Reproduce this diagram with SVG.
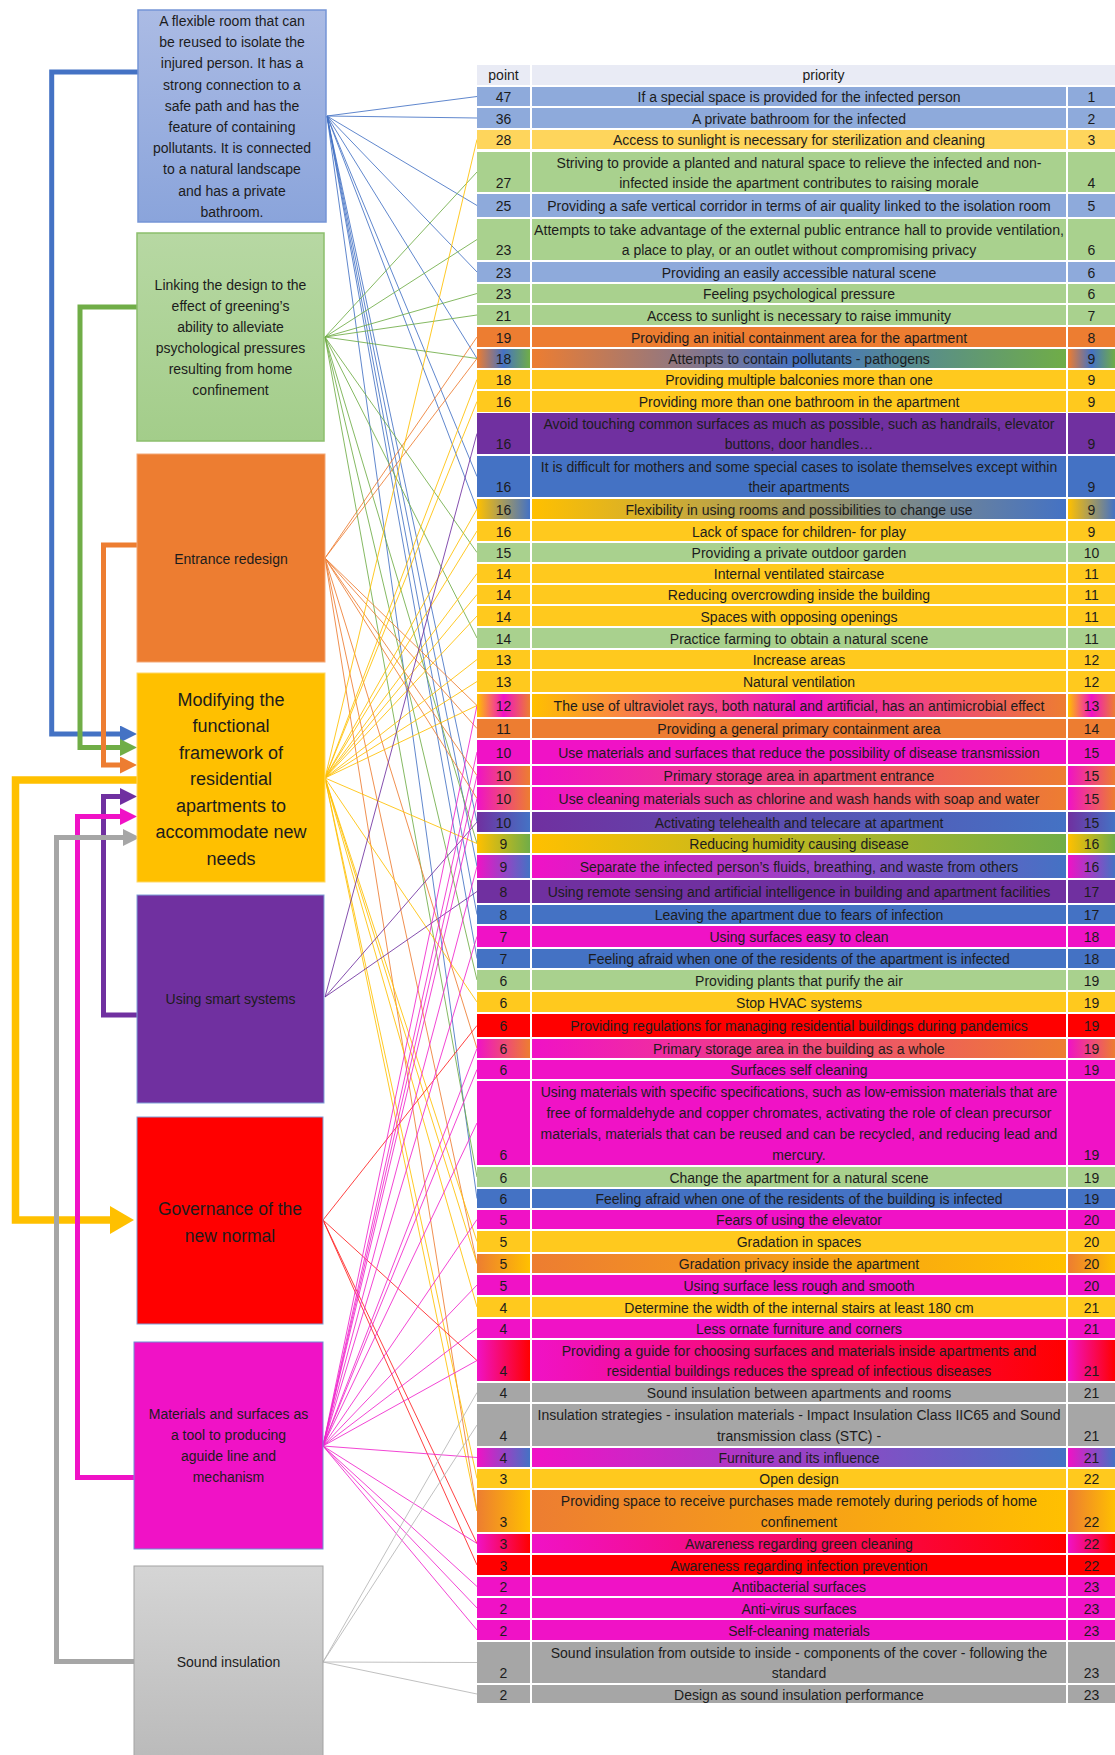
<svg xmlns="http://www.w3.org/2000/svg" width="1115" height="1755" viewBox="0 0 1115 1755">
<style>
text{font-family:"Liberation Sans",Arial,sans-serif;fill:#1c1c1c;text-anchor:middle}
.tb text{font-size:14px}
.nt{font-size:14px}
.bl{fill:#8eaadb}.gr{fill:#a9d18e}.ye{fill:#ffc91e}.yl{fill:#fed55c}.or{fill:#ed7d31}.pu{fill:#7030a0}
.db{fill:#4472c4}.mg{fill:#f012c6}.rd{fill:#ff0000}.gy{fill:#a6a6a6}.hd{fill:#e9ebf5}
.obg{fill:url(#gOBG)}.yb{fill:url(#gYB)}.ymo{fill:url(#gYMO)}.mo{fill:url(#gMO)}.pb{fill:url(#gPB)}
.yg{fill:url(#gYG)}.mb{fill:url(#gMB)}.oy{fill:url(#gOY)}.mr{fill:url(#gMR)}
.fan line{stroke-width:1;stroke-opacity:.85}
.k1{stroke:#4472c4}.k2{stroke:#70ad47}.k3{stroke:#ed7d31}.k4{stroke:#ffc000}.k5{stroke:#7030a0}.k6{stroke:#ff2020}.k7{stroke:#f024cc}.k8{stroke:#b5b5b5}
.flow path{fill:none;stroke-linejoin:miter}
</style>
<defs>
<linearGradient id="gOBG"><stop offset="0" stop-color="#ed7d31"/><stop offset=".5" stop-color="#4472c4"/><stop offset="1" stop-color="#70ad47"/></linearGradient>
<linearGradient id="gYB"><stop offset="0" stop-color="#ffc000"/><stop offset="1" stop-color="#4472c4"/></linearGradient>
<linearGradient id="gYMO"><stop offset="0" stop-color="#ffc000"/><stop offset=".5" stop-color="#f012c6"/><stop offset="1" stop-color="#ed7d31"/></linearGradient>
<linearGradient id="gMO"><stop offset="0" stop-color="#f012c6"/><stop offset="1" stop-color="#ed7d31"/></linearGradient>
<linearGradient id="gPB"><stop offset="0" stop-color="#7030a0"/><stop offset="1" stop-color="#4472c4"/></linearGradient>
<linearGradient id="gYG"><stop offset="0" stop-color="#ffc000"/><stop offset="1" stop-color="#70ad47"/></linearGradient>
<linearGradient id="gMB"><stop offset="0" stop-color="#f012c6"/><stop offset="1" stop-color="#4472c4"/></linearGradient>
<linearGradient id="gOY"><stop offset="0" stop-color="#ed7d31"/><stop offset="1" stop-color="#ffc000"/></linearGradient>
<linearGradient id="gMR"><stop offset="0" stop-color="#f012c6"/><stop offset="1" stop-color="#ff0000"/></linearGradient>
<linearGradient id="gN1" x2="0" y2="1"><stop offset="0" stop-color="#abbbe4"/><stop offset="1" stop-color="#8aa4db"/></linearGradient>
<linearGradient id="gN2" x2="0" y2="1"><stop offset="0" stop-color="#b7d8a3"/><stop offset="1" stop-color="#a3cd8a"/></linearGradient>
<linearGradient id="gN8" x2="0" y2="1"><stop offset="0" stop-color="#d5d5d5"/><stop offset="1" stop-color="#bababa"/></linearGradient>
<marker id="aBlue" markerUnits="userSpaceOnUse" markerWidth="18" markerHeight="18" refX="0" refY="8.5" orient="auto"><path d="M0 0L17 8.5L0 17Z" fill="#4472c4"/></marker>
<marker id="aGreen" markerUnits="userSpaceOnUse" markerWidth="18" markerHeight="18" refX="0" refY="8.5" orient="auto"><path d="M0 0L17 8.5L0 17Z" fill="#70ad47"/></marker>
<marker id="aOrange" markerUnits="userSpaceOnUse" markerWidth="18" markerHeight="18" refX="0" refY="8.5" orient="auto"><path d="M0 0L17 8.5L0 17Z" fill="#ed7d31"/></marker>
<marker id="aPurple" markerUnits="userSpaceOnUse" markerWidth="18" markerHeight="18" refX="0" refY="8.5" orient="auto"><path d="M0 0L17 8.5L0 17Z" fill="#7030a0"/></marker>
<marker id="aMagenta" markerUnits="userSpaceOnUse" markerWidth="18" markerHeight="18" refX="0" refY="8.5" orient="auto"><path d="M0 0L17 8.5L0 17Z" fill="#f012c6"/></marker>
<marker id="aGray" markerUnits="userSpaceOnUse" markerWidth="18" markerHeight="18" refX="0" refY="8.5" orient="auto"><path d="M0 0L17 8.5L0 17Z" fill="#a6a6a6"/></marker>
<marker id="aYellow" markerUnits="userSpaceOnUse" markerWidth="26" markerHeight="30" refX="0" refY="14" orient="auto"><path d="M0 0L24 14L0 28Z" fill="#ffc000"/></marker>
</defs>

<!-- connectors: category flow on the left, fans to the table on the right -->
<g id="connectors">
 <g class="flow">
  <path d="M137 780H15.5V1220H110" stroke="#ffc000" stroke-width="7.5" marker-end="url(#aYellow)"/>
  <path d="M138 72H51.7V734H120" stroke="#4472c4" stroke-width="5" marker-end="url(#aBlue)"/>
  <path d="M137 307H80V747.5H120" stroke="#70ad47" stroke-width="5" marker-end="url(#aGreen)"/>
  <path d="M137 545H103.5V765H120" stroke="#ed7d31" stroke-width="5" marker-end="url(#aOrange)"/>
  <path d="M137 1015H103.5V796.5H120" stroke="#7030a0" stroke-width="5" marker-end="url(#aPurple)"/>
  <path d="M134 1477.5H77.5V816.5H120" stroke="#f012c6" stroke-width="5" marker-end="url(#aMagenta)"/>
  <path d="M134 1661.5H56.5V837.5H123" stroke="#a6a6a6" stroke-width="5" marker-end="url(#aGray)"/>
 </g>
 <g class="fan">
  <g class="k1">
   <line x1="327" y1="116" x2="477" y2="96.5"/><line x1="327" y1="116" x2="477" y2="118"/><line x1="327" y1="116" x2="477" y2="205.5"/><line x1="327" y1="116" x2="477" y2="272"/><line x1="327" y1="116" x2="477" y2="358.5"/><line x1="327" y1="116" x2="477" y2="476.5"/><line x1="327" y1="116" x2="477" y2="509"/><line x1="327" y1="116" x2="477" y2="822"/><line x1="327" y1="116" x2="477" y2="866.5"/><line x1="327" y1="116" x2="477" y2="914.5"/><line x1="327" y1="116" x2="477" y2="958.5"/><line x1="327" y1="116" x2="477" y2="1198.5"/>
  </g>
  <g class="k2">
   <line x1="325" y1="337" x2="477" y2="172"/><line x1="325" y1="337" x2="477" y2="239.5"/><line x1="325" y1="337" x2="477" y2="293.5"/><line x1="325" y1="337" x2="477" y2="315"/><line x1="325" y1="337" x2="477" y2="358.5"/><line x1="325" y1="337" x2="477" y2="552.5"/><line x1="325" y1="337" x2="477" y2="638"/><line x1="325" y1="337" x2="477" y2="843.5"/><line x1="325" y1="337" x2="477" y2="980"/><line x1="325" y1="337" x2="477" y2="1177"/>
  </g>
  <g class="k3">
   <line x1="325" y1="558" x2="477" y2="337"/><line x1="325" y1="558" x2="477" y2="358.5"/><line x1="325" y1="558" x2="477" y2="705.5"/><line x1="325" y1="558" x2="477" y2="728.5"/><line x1="325" y1="558" x2="477" y2="775.5"/><line x1="325" y1="558" x2="477" y2="798.5"/><line x1="325" y1="558" x2="477" y2="1048.5"/><line x1="325" y1="558" x2="477" y2="1263.5"/><line x1="325" y1="558" x2="477" y2="1511"/>
  </g>
  <g class="k4">
   <line x1="325" y1="778" x2="477" y2="139.5"/><line x1="325" y1="778" x2="477" y2="379.5"/><line x1="325" y1="778" x2="477" y2="401.5"/><line x1="325" y1="778" x2="477" y2="509"/><line x1="325" y1="778" x2="477" y2="531"/><line x1="325" y1="778" x2="477" y2="573.5"/><line x1="325" y1="778" x2="477" y2="594.5"/><line x1="325" y1="778" x2="477" y2="616"/><line x1="325" y1="778" x2="477" y2="659.5"/><line x1="325" y1="778" x2="477" y2="681.5"/><line x1="325" y1="778" x2="477" y2="705.5"/><line x1="325" y1="778" x2="477" y2="843.5"/><line x1="325" y1="778" x2="477" y2="1002"/><line x1="325" y1="778" x2="477" y2="1241.5"/><line x1="325" y1="778" x2="477" y2="1263.5"/><line x1="325" y1="778" x2="477" y2="1307"/><line x1="325" y1="778" x2="477" y2="1478.5"/><line x1="325" y1="778" x2="477" y2="1511"/>
  </g>
  <g class="k5">
   <line x1="325" y1="997" x2="477" y2="433.5"/><line x1="325" y1="997" x2="477" y2="822"/><line x1="325" y1="997" x2="477" y2="891.5"/>
  </g>
  <g class="k6">
   <line x1="323" y1="1220" x2="477" y2="1025.5"/><line x1="323" y1="1220" x2="477" y2="1360.5"/><line x1="323" y1="1220" x2="477" y2="1543.5"/><line x1="323" y1="1220" x2="477" y2="1565"/>
  </g>
  <g class="k7">
   <line x1="323" y1="1446" x2="477" y2="705.5"/><line x1="323" y1="1446" x2="477" y2="752"/><line x1="323" y1="1446" x2="477" y2="775.5"/><line x1="323" y1="1446" x2="477" y2="798.5"/><line x1="323" y1="1446" x2="477" y2="866.5"/><line x1="323" y1="1446" x2="477" y2="936.5"/><line x1="323" y1="1446" x2="477" y2="1048.5"/><line x1="323" y1="1446" x2="477" y2="1069.5"/><line x1="323" y1="1446" x2="477" y2="1123"/><line x1="323" y1="1446" x2="477" y2="1219.5"/><line x1="323" y1="1446" x2="477" y2="1285"/><line x1="323" y1="1446" x2="477" y2="1328.5"/><line x1="323" y1="1446" x2="477" y2="1360.5"/><line x1="323" y1="1446" x2="477" y2="1457.5"/><line x1="323" y1="1446" x2="477" y2="1543.5"/><line x1="323" y1="1446" x2="477" y2="1586.5"/><line x1="323" y1="1446" x2="477" y2="1608"/><line x1="323" y1="1446" x2="477" y2="1630"/>
  </g>
  <g class="k8">
   <line x1="323" y1="1662" x2="477" y2="1392.5"/><line x1="323" y1="1662" x2="477" y2="1425"/><line x1="323" y1="1662" x2="477" y2="1662.5"/><line x1="323" y1="1662" x2="477" y2="1694"/>
  </g>
 </g>
</g>

<!-- category nodes -->
<g id="node-isolation-room">
 <rect x="138" y="10" width="188" height="212" fill="url(#gN1)" stroke="#7595d6" stroke-width="1.5"/>
 <text class="nt" x="232" y="26">A flexible room that can</text>
 <text class="nt" x="232" y="47.2">be reused to isolate the</text>
 <text class="nt" x="232" y="68.4">injured person. It has a</text>
 <text class="nt" x="232" y="89.6">strong connection to a</text>
 <text class="nt" x="232" y="110.8">safe path and has the</text>
 <text class="nt" x="232" y="132">feature of containing</text>
 <text class="nt" x="232" y="153.2">pollutants. It is connected</text>
 <text class="nt" x="232" y="174.4">to a natural landscape</text>
 <text class="nt" x="232" y="195.6">and has a private</text>
 <text class="nt" x="232" y="216.8">bathroom.</text>
</g>
<g id="node-greening">
 <rect x="137" y="233" width="187" height="208" fill="url(#gN2)" stroke="#8cbf6c" stroke-width="1.5"/>
 <text class="nt" x="230.5" y="290">Linking the design to the</text>
 <text class="nt" x="230.5" y="311">effect of greening’s</text>
 <text class="nt" x="230.5" y="332">ability to alleviate</text>
 <text class="nt" x="230.5" y="353">psychological pressures</text>
 <text class="nt" x="230.5" y="374">resulting from home</text>
 <text class="nt" x="230.5" y="395">confinement</text>
</g>
<g id="node-entrance">
 <rect x="137" y="454" width="188" height="208" fill="#ed7d31" stroke="#f3a877" stroke-width="1"/>
 <text class="nt" x="231" y="564">Entrance redesign</text>
</g>
<g id="node-functional-framework">
 <rect x="137" y="673" width="188" height="209" fill="#ffc000" stroke="#ffd866" stroke-width="1"/>
 <text x="231" y="705.7" font-size="18">Modifying the</text>
 <text x="231" y="732.2" font-size="18">functional</text>
 <text x="231" y="758.8" font-size="18">framework of</text>
 <text x="231" y="785.3" font-size="18">residential</text>
 <text x="231" y="811.9" font-size="18">apartments to</text>
 <text x="231" y="838.4" font-size="18">accommodate new</text>
 <text x="231" y="865" font-size="18">needs</text>
</g>
<g id="node-smart-systems">
 <rect x="137" y="895" width="187" height="208" fill="#7030a0" stroke="#7f9fd8" stroke-width="1"/>
 <text class="nt" x="230.5" y="1004">Using smart systems</text>
</g>
<g id="node-governance">
 <rect x="137" y="1117" width="186" height="207" fill="#ff0000" stroke="#7f9fd8" stroke-width="1"/>
 <text x="230" y="1215" font-size="17.5">Governance of the</text>
 <text x="230" y="1241.7" font-size="17.5">new normal</text>
</g>
<g id="node-materials">
 <rect x="134" y="1342" width="189" height="207" fill="#f012c6" stroke="#6f8fd6" stroke-width="1"/>
 <text class="nt" x="228.5" y="1419">Materials and surfaces as</text>
 <text class="nt" x="228.5" y="1440">a tool to producing</text>
 <text class="nt" x="228.5" y="1461">aguide line and</text>
 <text class="nt" x="228.5" y="1482">mechanism</text>
</g>
<g id="node-sound">
 <rect x="134" y="1566" width="189" height="195" fill="url(#gN8)" stroke="#a3a3a3" stroke-width="1"/>
 <text class="nt" x="228.5" y="1667">Sound insulation</text>
</g>

<!-- ranked table -->
<g id="table" class="tb">
 <g id="hdr"><rect class="hd" x="477" y="65" width="53" height="20"/><rect class="hd" x="532" y="65" width="583" height="20"/><text x="503.5" y="80" fill="#333">point</text><text x="823.5" y="80">priority</text></g>
 <g class="bl"><rect x="477" y="87" width="53" height="19"/><rect x="532" y="87" width="534" height="19"/><rect x="1068" y="87" width="47" height="19"/><text x="503.5" y="102">47</text><text x="799" y="102">If a special space is provided for the infected person</text><text x="1091.5" y="102">1</text></g>
 <g class="bl"><rect x="477" y="108" width="53" height="20"/><rect x="532" y="108" width="534" height="20"/><rect x="1068" y="108" width="47" height="20"/><text x="503.5" y="123.5">36</text><text x="799" y="123.5">A private bathroom for the infected</text><text x="1091.5" y="123.5">2</text></g>
 <g class="yl"><rect x="477" y="130" width="53" height="19"/><rect x="532" y="130" width="534" height="19"/><rect x="1068" y="130" width="47" height="19"/><text x="503.5" y="145">28</text><text x="799" y="145">Access to sunlight is necessary for sterilization and cleaning</text><text x="1091.5" y="145">3</text></g>
 <g class="gr"><rect x="477" y="152" width="53" height="40"/><rect x="532" y="152" width="534" height="40"/><rect x="1068" y="152" width="47" height="40"/><text x="503.5" y="188">27</text><text x="799" y="168">Striving to provide a planted and natural space to relieve the infected and non-</text><text x="799" y="188">infected inside the apartment contributes to raising morale</text><text x="1091.5" y="188">4</text></g>
 <g class="bl"><rect x="477" y="194" width="53" height="23"/><rect x="532" y="194" width="534" height="23"/><rect x="1068" y="194" width="47" height="23"/><text x="503.5" y="211">25</text><text x="799" y="211">Providing a safe vertical corridor in terms of air quality linked to the isolation room</text><text x="1091.5" y="211">5</text></g>
 <g class="gr"><rect x="477" y="219" width="53" height="41"/><rect x="532" y="219" width="534" height="41"/><rect x="1068" y="219" width="47" height="41"/><text x="503.5" y="255">23</text><text x="799" y="235" textLength="530" lengthAdjust="spacingAndGlyphs">Attempts to take advantage of the external public entrance hall to provide ventilation,</text><text x="799" y="255">a place to play, or an outlet without compromising privacy</text><text x="1091.5" y="255">6</text></g>
 <g class="bl"><rect x="477" y="262" width="53" height="20"/><rect x="532" y="262" width="534" height="20"/><rect x="1068" y="262" width="47" height="20"/><text x="503.5" y="277.5">23</text><text x="799" y="277.5">Providing an easily accessible natural scene</text><text x="1091.5" y="277.5">6</text></g>
 <g class="gr"><rect x="477" y="284" width="53" height="19"/><rect x="532" y="284" width="534" height="19"/><rect x="1068" y="284" width="47" height="19"/><text x="503.5" y="299">23</text><text x="799" y="299">Feeling psychological pressure</text><text x="1091.5" y="299">6</text></g>
 <g class="gr"><rect x="477" y="305" width="53" height="20"/><rect x="532" y="305" width="534" height="20"/><rect x="1068" y="305" width="47" height="20"/><text x="503.5" y="320.5">21</text><text x="799" y="320.5">Access to sunlight is necessary to raise immunity</text><text x="1091.5" y="320.5">7</text></g>
 <g class="or"><rect x="477" y="327" width="53" height="20"/><rect x="532" y="327" width="534" height="20"/><rect x="1068" y="327" width="47" height="20"/><text x="503.5" y="342.5">19</text><text x="799" y="342.5">Providing an initial containment area for the apartment</text><text x="1091.5" y="342.5">8</text></g>
 <g class="obg"><rect x="477" y="349" width="53" height="19"/><rect x="532" y="349" width="534" height="19"/><rect x="1068" y="349" width="47" height="19"/><text x="503.5" y="364">18</text><text x="799" y="364">Attempts to contain pollutants - pathogens</text><text x="1091.5" y="364">9</text></g>
 <g class="ye"><rect x="477" y="370" width="53" height="19"/><rect x="532" y="370" width="534" height="19"/><rect x="1068" y="370" width="47" height="19"/><text x="503.5" y="385">18</text><text x="799" y="385">Providing multiple balconies more than one</text><text x="1091.5" y="385">9</text></g>
 <g class="ye"><rect x="477" y="391" width="53" height="21"/><rect x="532" y="391" width="534" height="21"/><rect x="1068" y="391" width="47" height="21"/><text x="503.5" y="407">16</text><text x="799" y="407">Providing more than one bathroom in the apartment</text><text x="1091.5" y="407">9</text></g>
 <g class="pu"><rect x="477" y="413" width="53" height="41"/><rect x="532" y="413" width="534" height="41"/><rect x="1068" y="413" width="47" height="41"/><text x="503.5" y="449">16</text><text x="799" y="429">Avoid touching common surfaces as much as possible, such as handrails, elevator</text><text x="799" y="449">buttons, door handles…</text><text x="1091.5" y="449">9</text></g>
 <g class="db"><rect x="477" y="456" width="53" height="41"/><rect x="532" y="456" width="534" height="41"/><rect x="1068" y="456" width="47" height="41"/><text x="503.5" y="492">16</text><text x="799" y="472">It is difficult for mothers and some special cases to isolate themselves except within</text><text x="799" y="492">their apartments</text><text x="1091.5" y="492">9</text></g>
 <g class="yb"><rect x="477" y="499" width="53" height="20"/><rect x="532" y="499" width="534" height="20"/><rect x="1068" y="499" width="47" height="20"/><text x="503.5" y="514.5">16</text><text x="799" y="514.5">Flexibility in using rooms and possibilities to change use</text><text x="1091.5" y="514.5">9</text></g>
 <g class="ye"><rect x="477" y="521" width="53" height="20"/><rect x="532" y="521" width="534" height="20"/><rect x="1068" y="521" width="47" height="20"/><text x="503.5" y="536.5">16</text><text x="799" y="536.5">Lack of space for children- for play</text><text x="1091.5" y="536.5">9</text></g>
 <g class="gr"><rect x="477" y="543" width="53" height="19"/><rect x="532" y="543" width="534" height="19"/><rect x="1068" y="543" width="47" height="19"/><text x="503.5" y="558">15</text><text x="799" y="558">Providing a private outdoor garden</text><text x="1091.5" y="558">10</text></g>
 <g class="ye"><rect x="477" y="564" width="53" height="19"/><rect x="532" y="564" width="534" height="19"/><rect x="1068" y="564" width="47" height="19"/><text x="503.5" y="579">14</text><text x="799" y="579">Internal ventilated staircase</text><text x="1091.5" y="579">11</text></g>
 <g class="ye"><rect x="477" y="585" width="53" height="19"/><rect x="532" y="585" width="534" height="19"/><rect x="1068" y="585" width="47" height="19"/><text x="503.5" y="600">14</text><text x="799" y="600">Reducing overcrowding inside the building</text><text x="1091.5" y="600">11</text></g>
 <g class="ye"><rect x="477" y="606" width="53" height="20"/><rect x="532" y="606" width="534" height="20"/><rect x="1068" y="606" width="47" height="20"/><text x="503.5" y="621.5">14</text><text x="799" y="621.5">Spaces with opposing openings</text><text x="1091.5" y="621.5">11</text></g>
 <g class="gr"><rect x="477" y="628" width="53" height="20"/><rect x="532" y="628" width="534" height="20"/><rect x="1068" y="628" width="47" height="20"/><text x="503.5" y="643.5">14</text><text x="799" y="643.5">Practice farming to obtain a natural scene</text><text x="1091.5" y="643.5">11</text></g>
 <g class="ye"><rect x="477" y="650" width="53" height="19"/><rect x="532" y="650" width="534" height="19"/><rect x="1068" y="650" width="47" height="19"/><text x="503.5" y="665">13</text><text x="799" y="665">Increase areas</text><text x="1091.5" y="665">12</text></g>
 <g class="ye"><rect x="477" y="671" width="53" height="21"/><rect x="532" y="671" width="534" height="21"/><rect x="1068" y="671" width="47" height="21"/><text x="503.5" y="687">13</text><text x="799" y="687">Natural ventilation</text><text x="1091.5" y="687">12</text></g>
 <g class="ymo"><rect x="477" y="694" width="53" height="23"/><rect x="532" y="694" width="534" height="23"/><rect x="1068" y="694" width="47" height="23"/><text x="503.5" y="711">12</text><text x="799" y="711">The use of ultraviolet rays, both natural and artificial, has an antimicrobial effect</text><text x="1091.5" y="711">13</text></g>
 <g class="or"><rect x="477" y="719" width="53" height="19"/><rect x="532" y="719" width="534" height="19"/><rect x="1068" y="719" width="47" height="19"/><text x="503.5" y="734">11</text><text x="799" y="734">Providing a general primary containment area</text><text x="1091.5" y="734">14</text></g>
 <g class="mg"><rect x="477" y="740" width="53" height="24"/><rect x="532" y="740" width="534" height="24"/><rect x="1068" y="740" width="47" height="24"/><text x="503.5" y="757.5">10</text><text x="799" y="757.5">Use materials and surfaces that reduce the possibility of disease transmission</text><text x="1091.5" y="757.5">15</text></g>
 <g class="mo"><rect x="477" y="766" width="53" height="19"/><rect x="532" y="766" width="534" height="19"/><rect x="1068" y="766" width="47" height="19"/><text x="503.5" y="781">10</text><text x="799" y="781">Primary storage area in apartment entrance</text><text x="1091.5" y="781">15</text></g>
 <g class="mo"><rect x="477" y="787" width="53" height="23"/><rect x="532" y="787" width="534" height="23"/><rect x="1068" y="787" width="47" height="23"/><text x="503.5" y="804">10</text><text x="799" y="804">Use cleaning materials such as chlorine and wash hands with soap and water</text><text x="1091.5" y="804">15</text></g>
 <g class="pb"><rect x="477" y="812" width="53" height="20"/><rect x="532" y="812" width="534" height="20"/><rect x="1068" y="812" width="47" height="20"/><text x="503.5" y="827.5">10</text><text x="799" y="827.5">Activating telehealth and telecare at apartment</text><text x="1091.5" y="827.5">15</text></g>
 <g class="yg"><rect x="477" y="834" width="53" height="19"/><rect x="532" y="834" width="534" height="19"/><rect x="1068" y="834" width="47" height="19"/><text x="503.5" y="849">9</text><text x="799" y="849">Reducing humidity causing disease</text><text x="1091.5" y="849">16</text></g>
 <g class="mb"><rect x="477" y="855" width="53" height="23"/><rect x="532" y="855" width="534" height="23"/><rect x="1068" y="855" width="47" height="23"/><text x="503.5" y="872">9</text><text x="799" y="872">Separate the infected person’s fluids, breathing, and waste from others</text><text x="1091.5" y="872">16</text></g>
 <g class="pu"><rect x="477" y="880" width="53" height="23"/><rect x="532" y="880" width="534" height="23"/><rect x="1068" y="880" width="47" height="23"/><text x="503.5" y="897">8</text><text x="799" y="897">Using remote sensing and artificial intelligence in building and apartment facilities</text><text x="1091.5" y="897">17</text></g>
 <g class="db"><rect x="477" y="905" width="53" height="19"/><rect x="532" y="905" width="534" height="19"/><rect x="1068" y="905" width="47" height="19"/><text x="503.5" y="920">8</text><text x="799" y="920">Leaving the apartment due to fears of infection</text><text x="1091.5" y="920">17</text></g>
 <g class="mg"><rect x="477" y="926" width="53" height="21"/><rect x="532" y="926" width="534" height="21"/><rect x="1068" y="926" width="47" height="21"/><text x="503.5" y="942">7</text><text x="799" y="942">Using surfaces easy to clean</text><text x="1091.5" y="942">18</text></g>
 <g class="db"><rect x="477" y="949" width="53" height="19"/><rect x="532" y="949" width="534" height="19"/><rect x="1068" y="949" width="47" height="19"/><text x="503.5" y="964">7</text><text x="799" y="964">Feeling afraid when one of the residents of the apartment is infected</text><text x="1091.5" y="964">18</text></g>
 <g class="gr"><rect x="477" y="970" width="53" height="20"/><rect x="532" y="970" width="534" height="20"/><rect x="1068" y="970" width="47" height="20"/><text x="503.5" y="985.5">6</text><text x="799" y="985.5">Providing plants that purify the air</text><text x="1091.5" y="985.5">19</text></g>
 <g class="ye"><rect x="477" y="992" width="53" height="20"/><rect x="532" y="992" width="534" height="20"/><rect x="1068" y="992" width="47" height="20"/><text x="503.5" y="1007.5">6</text><text x="799" y="1007.5">Stop HVAC systems</text><text x="1091.5" y="1007.5">19</text></g>
 <g class="rd"><rect x="477" y="1014" width="53" height="23"/><rect x="532" y="1014" width="534" height="23"/><rect x="1068" y="1014" width="47" height="23"/><text x="503.5" y="1031">6</text><text x="799" y="1031">Providing regulations for managing residential buildings during pandemics</text><text x="1091.5" y="1031">19</text></g>
 <g class="mo"><rect x="477" y="1039" width="53" height="19"/><rect x="532" y="1039" width="534" height="19"/><rect x="1068" y="1039" width="47" height="19"/><text x="503.5" y="1054">6</text><text x="799" y="1054">Primary storage area in the building as a whole</text><text x="1091.5" y="1054">19</text></g>
 <g class="mg"><rect x="477" y="1060" width="53" height="19"/><rect x="532" y="1060" width="534" height="19"/><rect x="1068" y="1060" width="47" height="19"/><text x="503.5" y="1075">6</text><text x="799" y="1075">Surfaces self cleaning</text><text x="1091.5" y="1075">19</text></g>
 <g class="mg"><rect x="477" y="1081" width="53" height="84"/><rect x="532" y="1081" width="534" height="84"/><rect x="1068" y="1081" width="47" height="84"/><text x="503.5" y="1160">6</text><text x="799" y="1097">Using materials with specific specifications, such as low-emission materials that are</text><text x="799" y="1118">free of formaldehyde and copper chromates, activating the role of clean precursor</text><text x="799" y="1139">materials, materials that can be reused and can be recycled, and reducing lead and</text><text x="799" y="1160">mercury.</text><text x="1091.5" y="1160">19</text></g>
 <g class="gr"><rect x="477" y="1167" width="53" height="20"/><rect x="532" y="1167" width="534" height="20"/><rect x="1068" y="1167" width="47" height="20"/><text x="503.5" y="1182.5">6</text><text x="799" y="1182.5">Change the apartment for a natural scene</text><text x="1091.5" y="1182.5">19</text></g>
 <g class="db"><rect x="477" y="1189" width="53" height="19"/><rect x="532" y="1189" width="534" height="19"/><rect x="1068" y="1189" width="47" height="19"/><text x="503.5" y="1204">6</text><text x="799" y="1204">Feeling afraid when one of the residents of the building is infected</text><text x="1091.5" y="1204">19</text></g>
 <g class="mg"><rect x="477" y="1210" width="53" height="19"/><rect x="532" y="1210" width="534" height="19"/><rect x="1068" y="1210" width="47" height="19"/><text x="503.5" y="1225">5</text><text x="799" y="1225">Fears of using the elevator</text><text x="1091.5" y="1225">20</text></g>
 <g class="ye"><rect x="477" y="1231" width="53" height="21"/><rect x="532" y="1231" width="534" height="21"/><rect x="1068" y="1231" width="47" height="21"/><text x="503.5" y="1247">5</text><text x="799" y="1247">Gradation in spaces</text><text x="1091.5" y="1247">20</text></g>
 <g class="oy"><rect x="477" y="1254" width="53" height="19"/><rect x="532" y="1254" width="534" height="19"/><rect x="1068" y="1254" width="47" height="19"/><text x="503.5" y="1269">5</text><text x="799" y="1269">Gradation privacy inside the apartment</text><text x="1091.5" y="1269">20</text></g>
 <g class="mg"><rect x="477" y="1275" width="53" height="20"/><rect x="532" y="1275" width="534" height="20"/><rect x="1068" y="1275" width="47" height="20"/><text x="503.5" y="1290.5">5</text><text x="799" y="1290.5">Using surface less rough and smooth</text><text x="1091.5" y="1290.5">20</text></g>
 <g class="ye"><rect x="477" y="1297" width="53" height="20"/><rect x="532" y="1297" width="534" height="20"/><rect x="1068" y="1297" width="47" height="20"/><text x="503.5" y="1312.5">4</text><text x="799" y="1312.5">Determine the width of the internal stairs at least 180 cm</text><text x="1091.5" y="1312.5">21</text></g>
 <g class="mg"><rect x="477" y="1319" width="53" height="19"/><rect x="532" y="1319" width="534" height="19"/><rect x="1068" y="1319" width="47" height="19"/><text x="503.5" y="1334">4</text><text x="799" y="1334">Less ornate furniture and corners</text><text x="1091.5" y="1334">21</text></g>
 <g class="mr"><rect x="477" y="1340" width="53" height="41"/><rect x="532" y="1340" width="534" height="41"/><rect x="1068" y="1340" width="47" height="41"/><text x="503.5" y="1376">4</text><text x="799" y="1356">Providing a guide for choosing surfaces and materials inside apartments and</text><text x="799" y="1376">residential buildings reduces the spread of infectious diseases</text><text x="1091.5" y="1376">21</text></g>
 <g class="gy"><rect x="477" y="1383" width="53" height="19"/><rect x="532" y="1383" width="534" height="19"/><rect x="1068" y="1383" width="47" height="19"/><text x="503.5" y="1398">4</text><text x="799" y="1398">Sound insulation between apartments and rooms</text><text x="1091.5" y="1398">21</text></g>
 <g class="gy"><rect x="477" y="1404" width="53" height="42"/><rect x="532" y="1404" width="534" height="42"/><rect x="1068" y="1404" width="47" height="42"/><text x="503.5" y="1441">4</text><text x="799" y="1420">Insulation strategies - insulation materials - Impact Insulation Class IIC65 and Sound</text><text x="799" y="1441">transmission class (STC) -</text><text x="1091.5" y="1441">21</text></g>
 <g class="mb"><rect x="477" y="1448" width="53" height="19"/><rect x="532" y="1448" width="534" height="19"/><rect x="1068" y="1448" width="47" height="19"/><text x="503.5" y="1463">4</text><text x="799" y="1463">Furniture and its influence</text><text x="1091.5" y="1463">21</text></g>
 <g class="ye"><rect x="477" y="1469" width="53" height="19"/><rect x="532" y="1469" width="534" height="19"/><rect x="1068" y="1469" width="47" height="19"/><text x="503.5" y="1484">3</text><text x="799" y="1484">Open design</text><text x="1091.5" y="1484">22</text></g>
 <g class="oy"><rect x="477" y="1490" width="53" height="42"/><rect x="532" y="1490" width="534" height="42"/><rect x="1068" y="1490" width="47" height="42"/><text x="503.5" y="1527">3</text><text x="799" y="1506">Providing space to receive purchases made remotely during periods of home</text><text x="799" y="1527">confinement</text><text x="1091.5" y="1527">22</text></g>
 <g class="mr"><rect x="477" y="1534" width="53" height="19"/><rect x="532" y="1534" width="534" height="19"/><rect x="1068" y="1534" width="47" height="19"/><text x="503.5" y="1549">3</text><text x="799" y="1549">Awareness regarding green cleaning</text><text x="1091.5" y="1549">22</text></g>
 <g class="rd"><rect x="477" y="1555" width="53" height="20"/><rect x="532" y="1555" width="534" height="20"/><rect x="1068" y="1555" width="47" height="20"/><text x="503.5" y="1570.5">3</text><text x="799" y="1570.5">Awareness regarding infection prevention</text><text x="1091.5" y="1570.5">22</text></g>
 <g class="mg"><rect x="477" y="1577" width="53" height="19"/><rect x="532" y="1577" width="534" height="19"/><rect x="1068" y="1577" width="47" height="19"/><text x="503.5" y="1592">2</text><text x="799" y="1592">Antibacterial surfaces</text><text x="1091.5" y="1592">23</text></g>
 <g class="mg"><rect x="477" y="1598" width="53" height="20"/><rect x="532" y="1598" width="534" height="20"/><rect x="1068" y="1598" width="47" height="20"/><text x="503.5" y="1613.5">2</text><text x="799" y="1613.5">Anti-virus surfaces</text><text x="1091.5" y="1613.5">23</text></g>
 <g class="mg"><rect x="477" y="1620" width="53" height="20"/><rect x="532" y="1620" width="534" height="20"/><rect x="1068" y="1620" width="47" height="20"/><text x="503.5" y="1635.5">2</text><text x="799" y="1635.5">Self-cleaning materials</text><text x="1091.5" y="1635.5">23</text></g>
 <g class="gy"><rect x="477" y="1642" width="53" height="41"/><rect x="532" y="1642" width="534" height="41"/><rect x="1068" y="1642" width="47" height="41"/><text x="503.5" y="1678">2</text><text x="799" y="1658">Sound insulation from outside to inside - components of the cover - following the</text><text x="799" y="1678">standard</text><text x="1091.5" y="1678">23</text></g>
 <g class="gy"><rect x="477" y="1685" width="53" height="18"/><rect x="532" y="1685" width="534" height="18"/><rect x="1068" y="1685" width="47" height="18"/><text x="503.5" y="1699.5">2</text><text x="799" y="1699.5">Design as sound insulation performance</text><text x="1091.5" y="1699.5">23</text></g>
</g>
</svg>
